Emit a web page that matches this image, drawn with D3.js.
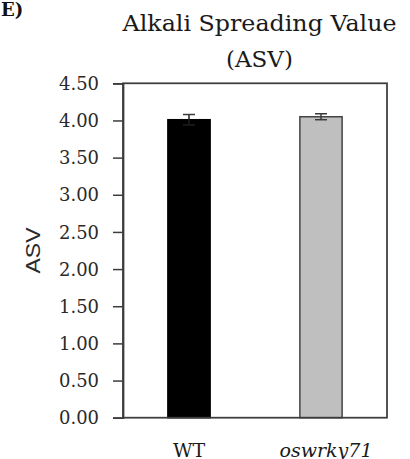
<!DOCTYPE html>
<html>
<head>
<meta charset="utf-8">
<script src="https://cdn.jsdelivr.net/npm/d3@7"></script>
<style>
  html, body { margin: 0; padding: 0; background: #fff; }
  svg { display: block; }
</style>
</head>
<body>
<svg id="chart" width="410" height="459"></svg>
<script>
// ---- data ----
const categories = ["WT", "oswrky71"];
const values = [4.01, 4.05];
const errors = [0.07, 0.04];
const barColors = ["#000000", "#bfbfbf"];
const yTicks = [0, 0.5, 1, 1.5, 2, 2.5, 3, 3.5, 4, 4.5];
const titleLines = ["Alkali Spreading Value", "(ASV)"];
const yLabel = "ASV";
const panelLabel = "E)";

// ---- layout ----
const svg = d3.select("#chart");
const L = 123, R = 387, T = 83.3, B = 417.7;
const serif = "'DejaVu Serif', serif";
const ink = "#3c3c3c";

const x = d3.scaleBand().domain(categories).range([L, R])
  .paddingInner(0.68).paddingOuter(0.34);
const y = d3.scaleLinear().domain([0, 4.5]).range([B, T]);

// panel label
svg.append("text").attr("x", 1).attr("y", 16)
  .attr("font-family", serif).attr("font-weight", "bold").attr("font-size", 18)
  .attr("fill", "#111").text(panelLabel);

// title
const tcx = 259.5;
svg.append("text").attr("x", tcx).attr("y", 31).attr("text-anchor", "middle")
  .attr("font-family", serif).attr("font-size", 23).attr("fill", "#1a1a1a")
  .attr("textLength", 274).attr("lengthAdjust", "spacingAndGlyphs")
  .text(titleLines[0]);
svg.append("text").attr("x", tcx).attr("y", 67).attr("text-anchor", "middle")
  .attr("font-family", serif).attr("font-size", 23).attr("fill", "#1a1a1a")
  .text(titleLines[1]);

// bars
svg.selectAll("rect.bar").data(categories).join("rect")
  .attr("class", "bar")
  .attr("x", d => x(d))
  .attr("width", x.bandwidth())
  .attr("y", (d, i) => y(values[i]))
  .attr("height", (d, i) => y(0) - y(values[i]))
  .attr("fill", (d, i) => barColors[i])
  .attr("stroke", (d, i) => i === 0 ? "#000" : "#444")
  .attr("stroke-width", 1.5);

// error bars
const cap = 6;
const eb = svg.append("g").attr("stroke", ink).attr("stroke-width", 1.5).attr("fill", "none");
categories.forEach((c, i) => {
  const cx = x(c) + x.bandwidth() / 2;
  const y1 = y(values[i] + errors[i]), y0 = y(values[i] - errors[i]);
  const col = i === 0 ? "#1e1e1e" : ink;
  eb.append("line").attr("x1", cx).attr("x2", cx).attr("y1", y1).attr("y2", y0).attr("stroke", col);
  eb.append("line").attr("x1", cx - cap).attr("x2", cx + cap).attr("y1", y1).attr("y2", y1).attr("stroke", ink);
  eb.append("line").attr("x1", cx - cap).attr("x2", cx + cap).attr("y1", y0).attr("y2", y0).attr("stroke", col);
});

// frame
svg.append("rect").attr("x", L).attr("y", T).attr("width", R - L).attr("height", B - T)
  .attr("fill", "none").attr("stroke", ink).attr("stroke-width", 1.75);

// y axis
const yAxis = d3.axisLeft(y).tickValues(yTicks).tickFormat(d3.format(".2f"))
  .tickSize(10).tickPadding(14);
const gy = svg.append("g").attr("transform", `translate(${L},0)`).call(yAxis);
gy.select(".domain").attr("stroke", ink).attr("stroke-width", 1.75);
gy.selectAll(".tick line").attr("stroke", ink).attr("stroke-width", 1.5);
gy.selectAll(".tick text").attr("font-family", serif).attr("font-size", 19)
  .attr("fill", "#2a2a2a").attr("textLength", 40).attr("lengthAdjust", "spacingAndGlyphs");

// y label
svg.append("text")
  .attr("transform", `translate(40,${(T + B) / 2}) rotate(-90)`)
  .attr("text-anchor", "middle")
  .attr("font-family", "'Liberation Sans', Arial, sans-serif").attr("font-size", 20)
  .attr("fill", "#2a2a2a").attr("textLength", 46).attr("lengthAdjust", "spacingAndGlyphs")
  .text(yLabel);

// x labels
svg.selectAll("text.xl").data(categories).join("text")
  .attr("class", "xl")
  .attr("x", (d, i) => x(d) + x.bandwidth() / 2 + (i === 1 ? 5 : 0))
  .attr("y", 456.5)
  .attr("text-anchor", "middle")
  .attr("font-family", serif).attr("font-size", 19)
  .attr("font-style", (d, i) => i === 1 ? "italic" : "normal")
  .attr("fill", "#1a1a1a")
  .text(d => d);
</script>
</body>
</html>
